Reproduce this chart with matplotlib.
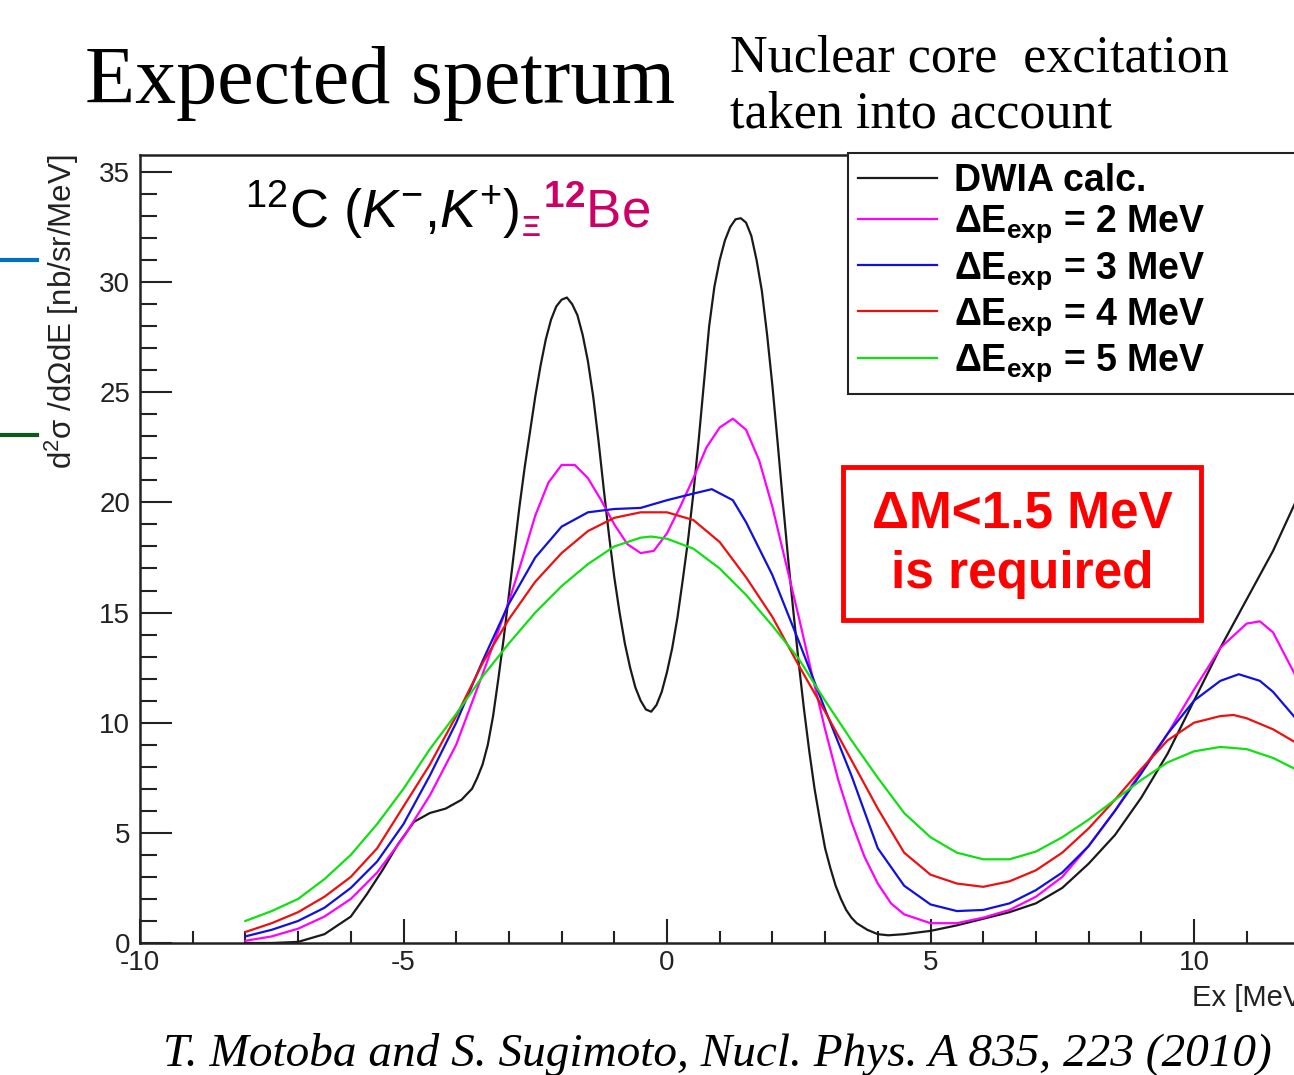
import numpy as np
import matplotlib
matplotlib.use('Agg')
import matplotlib.pyplot as plt
from matplotlib.lines import Line2D
from matplotlib.patches import Rectangle

plt.rcParams['font.family'] = ['Liberation Sans', 'DejaVu Sans']
plt.rcParams['mathtext.fontset'] = 'custom'
plt.rcParams['mathtext.rm'] = 'Liberation Sans'
plt.rcParams['mathtext.it'] = 'Liberation Sans:italic'
plt.rcParams['mathtext.bf'] = 'Liberation Sans:bold'

# DWIA calc. (black)
x_dwia = [-8.0, -7.5, -7.0, -6.5, -6.0, -5.7, -5.4, -5.1, -4.8, -4.5, -4.2, -3.9, -3.7,
          -3.6, -3.5, -3.4, -3.3, -3.2, -3.1, -3.0, -2.9, -2.8, -2.7, -2.6, -2.5, -2.4, -2.3,
          -2.2, -2.1, -2.0, -1.9, -1.8, -1.7, -1.6, -1.5, -1.4, -1.3, -1.2, -1.1, -1.0, -0.9,
          -0.8, -0.7, -0.6, -0.5, -0.4, -0.3, -0.2, -0.1, 0.0, 0.1, 0.2, 0.3, 0.4, 0.5,
          0.6, 0.7, 0.8, 0.9, 1.0, 1.1, 1.2, 1.3, 1.4, 1.5, 1.6, 1.7, 1.8, 1.9, 2.0, 2.1,
          2.2, 2.3, 2.4, 2.5, 2.6, 2.7, 2.8, 2.9, 3.0, 3.1, 3.2, 3.3, 3.4, 3.5, 3.6, 3.8,
          4.0, 4.2, 4.5, 5.0, 5.5, 6.0, 6.5, 7.0, 7.5, 8.0, 8.5, 9.0, 9.5, 10.0, 10.5,
          11.0, 11.5, 12.0, 12.3]
y_dwia = [0.0, 0.0, 0.05, 0.4, 1.2, 2.2, 3.3, 4.5, 5.5, 5.9, 6.1, 6.5, 7.0,
          7.5, 8.1, 9.0, 10.3, 12.0, 13.8, 15.8, 17.8, 19.8, 21.6, 23.2, 24.8, 26.2, 27.4,
          28.3, 28.9, 29.2, 29.3, 29.0, 28.5, 27.6, 26.4, 24.8, 22.8, 20.6, 18.5, 16.6, 15.0,
          13.6, 12.5, 11.6, 11.0, 10.6, 10.5, 10.8, 11.4, 12.3, 13.4, 14.8, 16.5, 18.3, 20.4,
          22.8, 25.4, 28.0, 29.8, 31.0, 31.9, 32.5, 32.85, 32.9, 32.7, 32.1, 31.0, 29.6, 27.6, 25.3, 22.7,
          20.0, 17.4, 15.0, 12.7, 10.6, 8.7, 7.0, 5.6, 4.3, 3.4, 2.6, 2.0, 1.5, 1.15, 0.9, 0.6,
          0.4, 0.35, 0.4, 0.55, 0.8, 1.1, 1.4, 1.8, 2.5, 3.6, 4.9, 6.6, 8.6, 11.0, 13.4,
          15.6, 17.8, 20.4, 21.8]

# smeared with experimental resolution
x_2mev = [-8.0, -7.5, -7.0, -6.5, -6.0, -5.5, -5.0, -4.5, -4.0, -3.5, -3.0, -2.75, -2.5, -2.25,
          -2.0, -1.75, -1.5, -1.25, -1.0, -0.75, -0.5, -0.25, 0.0, 0.25, 0.5, 0.75, 1.0, 1.25,
          1.5, 1.75, 2.0, 2.25, 2.5, 2.75, 3.0, 3.25, 3.5, 3.75, 4.0, 4.25, 4.5, 5.0, 5.5, 6.0,
          6.5, 7.0, 7.5, 8.0, 8.5, 9.0, 9.5, 10.0, 10.5, 11.0, 11.25, 11.5, 12.0, 12.3]
y_2mev = [0.1, 0.3, 0.65, 1.2, 2.0, 3.2, 4.8, 6.7, 9.0, 12.2, 15.5, 17.4, 19.4, 20.9,
          21.7, 21.7, 21.1, 20.1, 19.0, 18.1, 17.7, 17.8, 18.6, 19.8, 21.1, 22.5, 23.4, 23.8,
          23.3, 21.9, 19.8, 17.3, 14.8, 12.2, 9.7, 7.4, 5.5, 3.9, 2.7, 1.8, 1.3, 0.9, 0.9, 1.15,
          1.5, 2.1, 3.0, 4.4, 6.0, 7.8, 9.5, 11.5, 13.4, 14.5, 14.6, 14.1, 11.8, 10.0]

x_3mev = [-8.0, -7.5, -7.0, -6.5, -6.0, -5.5, -5.0, -4.5, -4.0, -3.5, -3.0, -2.5, -2.0, -1.5,
          -1.0, -0.5, 0.0, 0.5, 0.85, 1.25, 1.5, 2.0, 2.5, 3.0, 3.5, 4.0, 4.5, 5.0, 5.5, 6.0,
          6.5, 7.0, 7.5, 8.0, 8.5, 9.0, 9.5, 10.0, 10.5, 10.85, 11.25, 11.5, 12.0, 12.3]
y_3mev = [0.3, 0.6, 1.0, 1.6, 2.5, 3.7, 5.4, 7.6, 10.0, 12.8, 15.4, 17.5, 18.9, 19.55,
          19.7, 19.75, 20.1, 20.4, 20.6, 20.1, 19.1, 16.7, 13.7, 10.6, 7.6, 4.3, 2.6, 1.75, 1.45, 1.5,
          1.8, 2.4, 3.2, 4.4, 6.0, 7.7, 9.5, 11.0, 11.9, 12.2, 11.9, 11.4, 10.0, 9.0]

x_4mev = [-8.0, -7.5, -7.0, -6.5, -6.0, -5.5, -5.0, -4.5, -4.0, -3.5, -3.0, -2.5, -2.0, -1.5,
          -1.0, -0.5, 0.0, 0.5, 1.0, 1.5, 2.0, 2.5, 3.0, 3.5, 4.0, 4.5, 5.0, 5.5, 6.0, 6.5,
          7.0, 7.5, 8.0, 8.5, 9.0, 9.5, 10.0, 10.5, 10.75, 11.0, 11.5, 12.0, 12.3]
y_4mev = [0.5, 0.9, 1.4, 2.1, 3.0, 4.3, 6.2, 8.1, 10.3, 12.7, 14.7, 16.4, 17.7, 18.7,
          19.3, 19.55, 19.55, 19.2, 18.2, 16.6, 14.8, 12.6, 10.5, 8.3, 6.1, 4.1, 3.1, 2.7, 2.55, 2.8,
          3.3, 4.1, 5.2, 6.5, 7.9, 9.2, 10.0, 10.3, 10.35, 10.2, 9.7, 9.0, 8.6]

x_5mev = [-8.0, -7.5, -7.0, -6.5, -6.0, -5.5, -5.0, -4.5, -4.0, -3.5, -3.0, -2.5, -2.0, -1.5,
          -1.0, -0.5, -0.3, 0.0, 0.5, 1.0, 1.5, 2.0, 2.5, 3.0, 3.5, 4.0, 4.5, 5.0, 5.5, 6.0,
          6.5, 7.0, 7.5, 8.0, 8.5, 9.0, 9.5, 10.0, 10.5, 11.0, 11.5, 12.0, 12.3]
y_5mev = [1.0, 1.45, 2.0, 2.9, 4.0, 5.4, 7.0, 8.8, 10.4, 12.1, 13.6, 15.0, 16.2, 17.2,
          18.0, 18.4, 18.45, 18.35, 17.9, 17.0, 15.8, 14.4, 12.9, 11.0, 9.2, 7.5, 5.9, 4.8, 4.1, 3.8,
          3.8, 4.15, 4.8, 5.6, 6.5, 7.4, 8.2, 8.7, 8.9, 8.8, 8.4, 7.8, 7.4]

resolutions = [2, 3, 4, 5]
x_tick_labels = ['-10', '-5', '0', '5', '10']
y_tick_labels = ['0', '5', '10', '15', '20', '25', '30', '35']

W, H = 1294, 1075
fig = plt.figure(figsize=(W / 100, H / 100), dpi=100)
ax = fig.add_axes([140 / W, 1 - 943 / H, 1170 / W, 788 / H])

ax.plot(x_dwia, y_dwia, color='#1a1a1a', lw=1.6, label='DWIA calc.')
series = [(x_2mev, y_2mev, '#ff00ff'), (x_3mev, y_3mev, '#1010e0'),
          (x_4mev, y_4mev, '#ee1010'), (x_5mev, y_5mev, '#10e010')]
for (xs, ys, c), r in zip(series, resolutions):
    ax.plot(xs, ys, color=c, lw=1.6, label='ΔE$_{\\mathbf{exp}}$ = %d MeV' % r)

ax.set_xlim(-10, -10 + 1170 / 52.7)
ax.set_ylim(0, 788 / 22.03)
ax.set_xticks([-10, -5, 0, 5, 10])
ax.set_xticklabels(x_tick_labels)
ax.set_xticks(np.arange(-10, 13, 1), minor=True)
ax.set_yticks([0, 5, 10, 15, 20, 25, 30, 35])
ax.set_yticklabels(y_tick_labels)
ax.set_yticks(np.arange(0, 36, 1), minor=True)
ax.tick_params(which='both', direction='in', top=False, right=False, width=1.5,
               labelsize=20, colors='#222222')
ax.tick_params(axis='y', which='major', length=23, pad=7)
ax.tick_params(axis='y', which='minor', length=12)
ax.tick_params(axis='x', which='major', length=17, pad=5)
ax.tick_params(axis='x', which='minor', length=9)
for s in ax.spines.values():
    s.set_linewidth(1.8)
    s.set_color('#222222')

ax.set_ylabel('d$^{2}$σ /dΩdE [nb/sr/MeV]', fontsize=22.5, loc='top', color='#222222')
ax.yaxis.set_label_coords(-0.05, 1.0)
ax.set_xlabel('Ex [MeV]', fontsize=21, loc='right', color='#222222')
ax.xaxis.set_label_coords(1.0, -0.052)

leg = ax.legend(loc='upper left', bbox_to_anchor=(848 / W, 1 - 388 / H, 0.4, 235 / H),
                bbox_transform=fig.transFigure, mode='expand', borderaxespad=0,
                prop={'weight': 'bold', 'size': 27}, handlelength=2.1, handletextpad=0.45,
                borderpad=0.27, labelspacing=0.12, fancybox=False, framealpha=1)
leg.get_frame().set_edgecolor('#222222')
leg.get_frame().set_linewidth(1.5)

# slide text
fig.text(85 / W, 1 - 103 / H, 'Expected spetrum', family='Liberation Serif', fontsize=59,
         va='baseline')
fig.text(730 / W, 1 - 72 / H, 'Nuclear core  excitation', family='Liberation Serif',
         fontsize=37.5, va='baseline')
fig.text(730 / W, 1 - 128 / H, 'taken into account', family='Liberation Serif',
         fontsize=37.5, va='baseline')
fig.text(163 / W, 1 - 1066 / H, 'T. Motoba and S. Sugimoto, Nucl. Phys. A 835, 223 (2010)',
         family='Liberation Serif', style='italic', fontsize=34, va='baseline')

# reaction label, pieces placed one after the other
t1 = fig.text(245 / W, 1 - 228 / H, '$^{12}$C ($K^{-}$,$K^{+}$)', fontsize=39, va='baseline')
fig.canvas.draw()
x_end = t1.get_window_extent().x1
t2 = fig.text((x_end + 3) / W, 1 - 236 / H, 'Ξ', fontsize=21, fontweight='bold',
              color='#cc0066', va='baseline')
fig.canvas.draw()
x_end = t2.get_window_extent().x1
fig.text((x_end + 2) / W, 1 - 228 / H, '$^{\\mathbf{12}}$Be', fontsize=38, color='#cc0066',
         va='baseline')

# resolution requirement box
fig.add_artist(Rectangle((843 / W, 1 - 620 / H), 358 / W, 153 / H, transform=fig.transFigure,
                         fill=False, edgecolor='#ff0000', lw=3.5))
fig.text(1022 / W, 1 - 544 / H, 'ΔM<1.5 MeV\nis required', ha='center', va='center',
         color='#ff0000', fontsize=37, fontweight='bold', linespacing=1.3)

# slide side marks
fig.add_artist(Line2D([0, 37 / W], [1 - 260 / H] * 2, transform=fig.transFigure,
                      color='#0070c0', lw=3))
fig.add_artist(Line2D([0, 37 / W], [1 - 435 / H] * 2, transform=fig.transFigure,
                      color='#0b5a1a', lw=3))

fig.savefig('out.png', dpi=100)
